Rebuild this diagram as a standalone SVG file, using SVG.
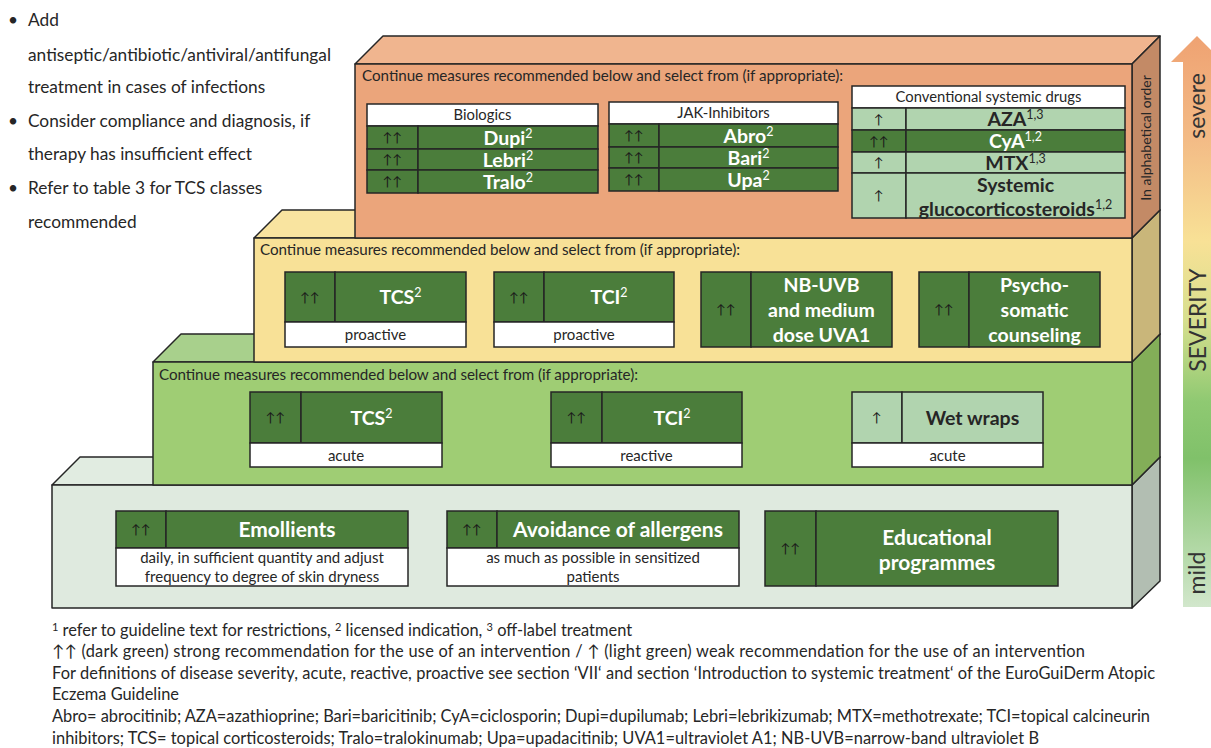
<svg xmlns="http://www.w3.org/2000/svg" width="1211" height="748" viewBox="0 0 1211 748">
<defs>
<style>
.t{font-family:Lato,'Liberation Sans','DejaVu Sans',sans-serif;fill:#262626}
.e{stroke:#262626;stroke-width:1.5;stroke-linejoin:round}
.dk{fill:#4b7d3b;stroke:#262626;stroke-width:1.5}
.lt{fill:#b1d4af;stroke:#262626;stroke-width:1.5}
.wh{fill:#ffffff;stroke:#262626;stroke-width:1.5}
.hd{font-size:15.2px}
.th{font-size:14.8px;text-anchor:middle}
.nm{font-size:19.5px;font-weight:bold;fill:#ffffff;text-anchor:middle}
.nd{font-size:19.5px;font-weight:bold;fill:#262626;text-anchor:middle}
.big{font-size:21px}
.sp{font-size:12.5px;font-weight:normal}
.ar{font-size:13px;text-anchor:middle;fill:#1a1a1a}
.sub{font-size:15px;text-anchor:middle}
.fn{font-size:16.4px}
.bl{font-size:17.3px}
.sv{font-size:23px;text-anchor:middle;fill:#333333}
</style>
<linearGradient id="sev" x1="0" y1="36" x2="0" y2="607" gradientUnits="userSpaceOnUse">
<stop offset="0" stop-color="#efa272"/>
<stop offset="0.18" stop-color="#f3bb86"/>
<stop offset="0.36" stop-color="#f8e196"/>
<stop offset="0.5" stop-color="#d6df8e"/>
<stop offset="0.64" stop-color="#8fc972"/>
<stop offset="0.74" stop-color="#80c16a"/>
<stop offset="1" stop-color="#d2e7cc"/>
</linearGradient>
</defs>
<rect x="0" y="0" width="1211" height="748" fill="#ffffff"/>

<g id="notes-top">
<text class="t bl" x="8" y="26">•</text><text class="t bl" x="28" y="26">Add</text>
<text class="t bl" x="28" y="61" textLength="303">antiseptic/antibiotic/antiviral/antifungal</text>
<text class="t bl" x="28" y="93">treatment in cases of infections</text>
<text class="t bl" x="8" y="127">•</text><text class="t bl" x="28" y="127">Consider compliance and diagnosis, if</text>
<text class="t bl" x="28" y="160">therapy has insufficient effect</text>
<text class="t bl" x="8" y="194">•</text><text class="t bl" x="28" y="194">Refer to table 3 for TCS classes</text>
<text class="t bl" x="28" y="228">recommended</text>
</g>

<g id="severity-arrow">
<path d="M1183,607 L1183,62 L1171,62 L1197,36 L1223,62 L1211,62 L1211,607 Z" fill="url(#sev)"/>
<text class="t sv" transform="translate(1205,106) rotate(-90)">severe</text>
<text class="t sv" font-size="25" transform="translate(1206,320) rotate(-90)">SEVERITY</text>
<text class="t sv" transform="translate(1205,573) rotate(-90)">mild</text>
</g>

<g id="level-basic">
<polygon class="e" points="52,485 80,457 1160,457 1132,485" fill="#e1ece1"/>
<polygon class="e" points="1132,485 1160,457 1160,581 1132,608" fill="#b2beb2"/>
<rect class="e" x="52" y="485" width="1080" height="123" fill="#dfeadf"/>
</g>

<g id="level-mild">
<polygon class="e" points="153,362 181,334 1160,334 1132,362" fill="#a8d08c"/>
<polygon class="e" points="1132,362 1160,334 1160,457 1132,485" fill="#83ae58"/>
<rect class="e" x="153" y="362" width="979" height="123" fill="#9fcd74"/>
<text class="t hd" x="159" y="379.5" textLength="479">Continue measures recommended below and select from (if appropriate):</text>
</g>

<g id="level-moderate">
<polygon class="e" points="254,238 282,210 1160,210 1132,238" fill="#f9e4a0"/>
<polygon class="e" points="1132,238 1160,210 1160,334 1132,362" fill="#c9b67a"/>
<rect class="e" x="254" y="238" width="878" height="124" fill="#f8e197"/>
<text class="t hd" x="260" y="254.5" textLength="480">Continue measures recommended below and select from (if appropriate):</text>
</g>

<g id="level-severe">
<polygon class="e" points="355,64 383,36 1160,36 1132,64" fill="#f0b58f"/>
<polygon class="e" points="1132,64 1160,36 1160,210 1132,238" fill="#c38a66"/>
<rect class="e" x="355" y="64" width="777" height="174" fill="#eba57b"/>
<text class="t hd" x="362" y="80.5" textLength="481">Continue measures recommended below and select from (if appropriate):</text>
<text class="t" font-size="14" text-anchor="middle" fill="#333333" transform="translate(1151,138) rotate(-90)">In alphabetical order</text>
</g>

<g id="biologics">
<rect class="wh" x="367" y="104" width="231" height="22"/>
<text class="t th" x="482.5" y="120">Biologics</text>
<rect class="dk" x="367" y="126" width="51" height="23"/><rect class="dk" x="418" y="126" width="180" height="23"/>
<rect class="dk" x="367" y="149" width="51" height="21"/><rect class="dk" x="418" y="149" width="180" height="21"/>
<rect class="dk" x="367" y="170" width="51" height="23"/><rect class="dk" x="418" y="170" width="180" height="23"/>
<text class="t ar" x="392.5" y="142">↑↑</text>
<text class="t ar" x="392.5" y="164">↑↑</text>
<text class="t ar" x="392.5" y="186">↑↑</text>
<text class="t nm" x="508" y="144.5">Dupi<tspan class="sp" dy="-7">2</tspan></text>
<text class="t nm" x="508" y="166.5">Lebri<tspan class="sp" dy="-7">2</tspan></text>
<text class="t nm" x="508" y="188.5">Tralo<tspan class="sp" dy="-7">2</tspan></text>
</g>

<g id="jak-inhibitors">
<rect class="wh" x="609" y="102" width="229" height="22"/>
<text class="t th" x="723.5" y="118">JAK-Inhibitors</text>
<rect class="dk" x="609" y="124" width="50" height="23"/><rect class="dk" x="659" y="124" width="179" height="23"/>
<rect class="dk" x="609" y="147" width="50" height="21"/><rect class="dk" x="659" y="147" width="179" height="21"/>
<rect class="dk" x="609" y="168" width="50" height="23"/><rect class="dk" x="659" y="168" width="179" height="23"/>
<text class="t ar" x="634" y="140">↑↑</text>
<text class="t ar" x="634" y="162">↑↑</text>
<text class="t ar" x="634" y="184">↑↑</text>
<text class="t nm" x="748.5" y="142.5">Abro<tspan class="sp" dy="-7">2</tspan></text>
<text class="t nm" x="748.5" y="164.5">Bari<tspan class="sp" dy="-7">2</tspan></text>
<text class="t nm" x="748.5" y="186.5">Upa<tspan class="sp" dy="-7">2</tspan></text>
</g>

<g id="conventional">
<rect class="wh" x="852" y="86" width="273" height="22"/>
<text class="t th" x="988.5" y="102">Conventional systemic drugs</text>
<rect class="lt" x="852" y="108" width="54" height="22"/><rect class="lt" x="906" y="108" width="219" height="22"/>
<rect class="dk" x="852" y="130" width="54" height="22"/><rect class="dk" x="906" y="130" width="219" height="22"/>
<rect class="lt" x="852" y="152" width="54" height="21"/><rect class="lt" x="906" y="152" width="219" height="21"/>
<rect class="lt" x="852" y="173" width="54" height="45"/><rect class="lt" x="906" y="173" width="219" height="45"/>
<text class="t ar" x="879" y="123.5">↑</text>
<text class="t ar" x="879" y="145.5">↑↑</text>
<text class="t ar" x="879" y="167">↑</text>
<text class="t ar" x="879" y="200">↑</text>
<text class="t nd" x="1015.5" y="126">AZA<tspan class="sp" font-size="14" dy="-7">1,3</tspan></text>
<text class="t nm" x="1015.5" y="148">CyA<tspan class="sp" font-size="14" dy="-7">1,2</tspan></text>
<text class="t nd" x="1015.5" y="169.5">MTX<tspan class="sp" font-size="14" dy="-7">1,3</tspan></text>
<text class="t nd" x="1015.5" y="192">Systemic</text>
<text class="t nd" x="1015.5" y="216">glucocorticosteroids<tspan class="sp" font-size="14" dy="-7">1,2</tspan></text>
</g>

<g id="tcs-proactive">
<rect class="dk" x="285" y="272" width="50" height="50"/><rect class="dk" x="335" y="272" width="131" height="50"/>
<rect class="wh" x="285" y="322" width="181" height="25"/>
<text class="t ar" x="310" y="301.5">↑↑</text>
<text class="t nm" x="400.5" y="304">TCS<tspan class="sp" dy="-7">2</tspan></text>
<text class="t sub" x="375.5" y="340">proactive</text>
</g>
<g id="tci-proactive">
<rect class="dk" x="494" y="272" width="50" height="50"/><rect class="dk" x="544" y="272" width="130" height="50"/>
<rect class="wh" x="494" y="322" width="180" height="25"/>
<text class="t ar" x="519" y="301.5">↑↑</text>
<text class="t nm" x="609" y="304">TCI<tspan class="sp" dy="-7">2</tspan></text>
<text class="t sub" x="584" y="340">proactive</text>
</g>
<g id="phototherapy">
<rect class="dk" x="701" y="272" width="50" height="75"/><rect class="dk" x="751" y="272" width="141" height="75"/>
<text class="t ar" x="726" y="314">↑↑</text>
<text class="t nm" x="821.5" y="292">NB-UVB</text>
<text class="t nm" x="821.5" y="317">and medium</text>
<text class="t nm" x="821.5" y="342">dose UVA1</text>
</g>
<g id="psychosomatic">
<rect class="dk" x="919" y="272" width="50" height="75"/><rect class="dk" x="969" y="272" width="131" height="75"/>
<text class="t ar" x="944" y="314">↑↑</text>
<text class="t nm" x="1034.5" y="292">Psycho-</text>
<text class="t nm" x="1034.5" y="317">somatic</text>
<text class="t nm" x="1034.5" y="342">counseling</text>
</g>

<g id="tcs-acute">
<rect class="dk" x="250" y="392" width="51" height="51"/><rect class="dk" x="301" y="392" width="141" height="51"/>
<rect class="wh" x="250" y="443" width="192" height="24"/>
<text class="t ar" x="275.5" y="422">↑↑</text>
<text class="t nm" x="371.5" y="424.5">TCS<tspan class="sp" dy="-7">2</tspan></text>
<text class="t sub" x="346" y="460.5">acute</text>
</g>
<g id="tci-reactive">
<rect class="dk" x="551" y="392" width="51" height="51"/><rect class="dk" x="602" y="392" width="140" height="51"/>
<rect class="wh" x="551" y="443" width="191" height="24"/>
<text class="t ar" x="576.5" y="422">↑↑</text>
<text class="t nm" x="672" y="424.5">TCI<tspan class="sp" dy="-7">2</tspan></text>
<text class="t sub" x="646.5" y="460.5">reactive</text>
</g>
<g id="wet-wraps">
<rect class="lt" x="852" y="392" width="50" height="51"/><rect class="lt" x="902" y="392" width="141" height="51"/>
<rect class="wh" x="852" y="443" width="191" height="24"/>
<text class="t ar" x="877" y="422">↑</text>
<text class="t nd" x="972.5" y="424.5">Wet wraps</text>
<text class="t sub" x="947.5" y="460.5">acute</text>
</g>

<g id="emollients">
<rect class="dk" x="116" y="511" width="50" height="37"/><rect class="dk" x="166" y="511" width="242" height="37"/>
<rect class="wh" x="116" y="548" width="292" height="38"/>
<text class="t ar" x="141" y="534">↑↑</text>
<text class="t nm big" x="287" y="537">Emollients</text>
<text class="t sub" x="262" y="563">daily, in sufficient quantity and adjust</text>
<text class="t sub" x="262" y="582">frequency to degree of skin dryness</text>
</g>
<g id="allergen-avoidance">
<rect class="dk" x="447" y="511" width="50" height="37"/><rect class="dk" x="497" y="511" width="242" height="37"/>
<rect class="wh" x="447" y="548" width="292" height="38"/>
<text class="t ar" x="472" y="534">↑↑</text>
<text class="t nm big" x="618" y="537">Avoidance of allergens</text>
<text class="t sub" x="593" y="563">as much as possible in sensitized</text>
<text class="t sub" x="593" y="582">patients</text>
</g>
<g id="education">
<rect class="dk" x="765" y="511" width="51" height="75"/><rect class="dk" x="816" y="511" width="242" height="75"/>
<text class="t ar" x="790.5" y="553">↑↑</text>
<text class="t nm big" x="937" y="544.5">Educational</text>
<text class="t nm big" x="937" y="569.5">programmes</text>
</g>

<g id="connectors"></g>

<g id="footnotes">
<text class="t fn" x="52" y="636"><tspan font-size="11" dy="-5">1</tspan><tspan dy="5"> refer to guideline text for restrictions, </tspan><tspan font-size="11" dy="-5">2</tspan><tspan dy="5"> licensed indication, </tspan><tspan font-size="11" dy="-5">3</tspan><tspan dy="5"> off-label treatment</tspan></text>
<text class="t fn" x="52" y="657" textLength="1033">↑↑ (dark green) strong recommendation for the use of an intervention / ↑ (light green) weak recommendation for the use of an intervention</text>
<text class="t fn" x="52" y="679" textLength="1103">For definitions of disease severity, acute, reactive, proactive see section ‘VII‘ and section ‘Introduction to systemic treatment‘ of the EuroGuiDerm Atopic</text>
<text class="t fn" x="52" y="700">Eczema Guideline</text>
<text class="t fn" x="52" y="722" textLength="1098">Abro= abrocitinib; AZA=azathioprine; Bari=baricitinib; CyA=ciclosporin; Dupi=dupilumab; Lebri=lebrikizumab; MTX=methotrexate; TCI=topical calcineurin</text>
<text class="t fn" x="52" y="744" textLength="987">inhibitors; TCS= topical corticosteroids; Tralo=tralokinumab; Upa=upadacitinib; UVA1=ultraviolet A1; NB-UVB=narrow-band ultraviolet B</text>
</g>
</svg>
